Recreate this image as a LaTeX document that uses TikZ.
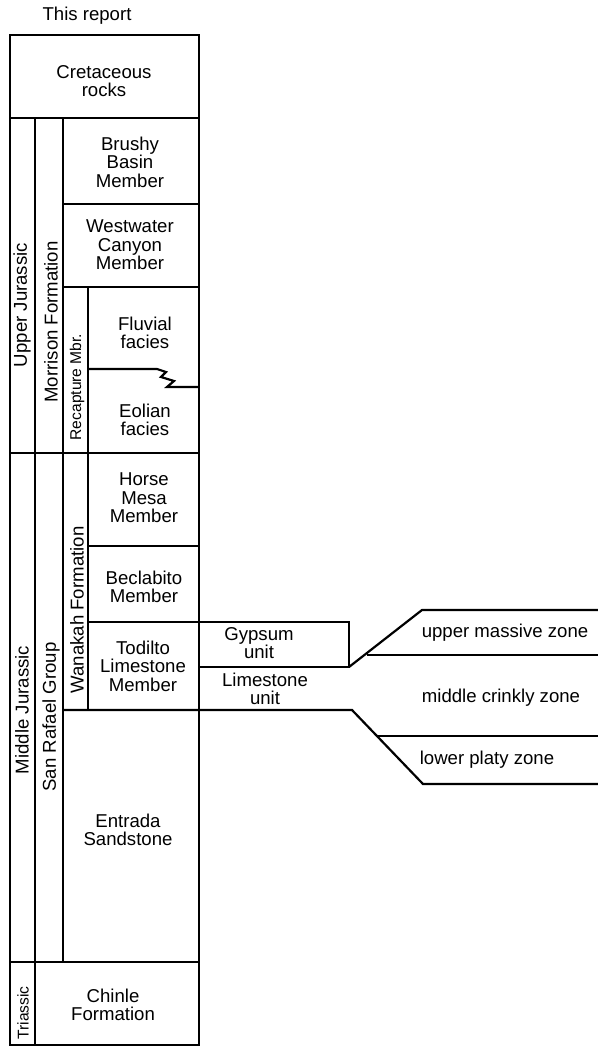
\documentclass[tikz,border=0pt]{standalone}
\usepackage{fontspec}
\setmainfont{Liberation Sans}
\usetikzlibrary{calc}

\begin{document}
\begin{tikzpicture}[x=0.5pt, y=-0.5pt, line width=1.1pt]
			\tikzstyle{unit}=[align=center, inner sep=0pt, font=\fontsize{9.3}{9.3}\selectfont]
			\tikzstyle{sideunit}=[unit, rotate=90]
			\tikzstyle{smallside}=[sideunit, font=\fontsize{7.8}{8}\selectfont]
			\useasboundingbox (0,0) rectangle (598,1047);
			
			% Outer frame and column dividers
			\draw (10,35) rectangle (199,1045);
			\draw (10,118) -- (199,118);
			\draw (10,453) -- (199,453);
			\draw (10,962) -- (199,962);
			\draw (35,118) -- (35,1045);
			\draw (63,118) -- (63,962);
			\draw (88,287) -- (88,710);
			\draw (63,204) -- (199,204);
			\draw (63,287) -- (199,287);
			\draw (88,546) -- (199,546);
			\draw (88,622) -- (349,622) -- (349,667) -- (199,667);
			\draw (63,710) -- (352,710) -- (423,784) -- (598,784);
			
			% Intertongued facies contact
			\draw (88,369) -- (157,369) -- (166,372) -- (161,377) -- (174,381) -- (167,387) -- (199,387);
			
			% Todilto zones
			\draw (349,667) -- (422,610) -- (598,610);
			\draw (367,655) -- (598,655);
			\draw (377,736) -- (598,736);
			
			% Labels
			\node[unit] (report) at (87,16) {This report};
			\node[unit] (cret) at (104,81) {Cretaceous\\rocks};
			\node[unit] (brushy) at (130,162) {Brushy\\Basin\\Member};
			\node[unit] (westwater) at (130,245) {Westwater\\Canyon\\Member};
			\node[unit] (fluvial) at (145,333) {Fluvial\\facies};
			\node[unit] (eolian) at (145,420) {Eolian\\facies};
			\node[unit] (horse) at (144,498) {Horse\\Mesa\\Member};
			\node[unit] (beclabito) at (144,587) {Beclabito\\Member};
			\node[unit] (todilto) at (143,666) {Todilto\\Limestone\\Member};
			\node[unit] (gypsum) at (259,643) {Gypsum\\unit};
			\node[unit] (limestone) at (265,689) {Limestone\\unit};
			\node[unit] (upper) at (505,633) {upper massive zone};
			\node[unit] (middle) at (501,698) {middle crinkly zone};
			\node[unit] (lower) at (487,760) {lower platy zone};
			\node[unit] (entrada) at (128,830) {Entrada\\Sandstone};
			\node[unit] (chinle) at (113,1005) {Chinle\\Formation};
			
			% Rotated column labels
			\node[sideunit] (upperjur) at (22,305) {Upper Jurassic};
			\node[sideunit] (middlejur) at (22,710) {Middle Jurassic};
			\node[smallside] (triassic) at (23,1013) {Triassic};
			\node[sideunit] (morrison) at (51,322) {Morrison Formation};
			\node[sideunit] (sanrafael) at (51,717) {San Rafael Group};
			\node[smallside] (recapture) at (77,387) {Recapture Mbr.};
			\node[sideunit] (wanakah) at (77,610) {Wanakah Formation};
		\end{tikzpicture}
\end{document}
